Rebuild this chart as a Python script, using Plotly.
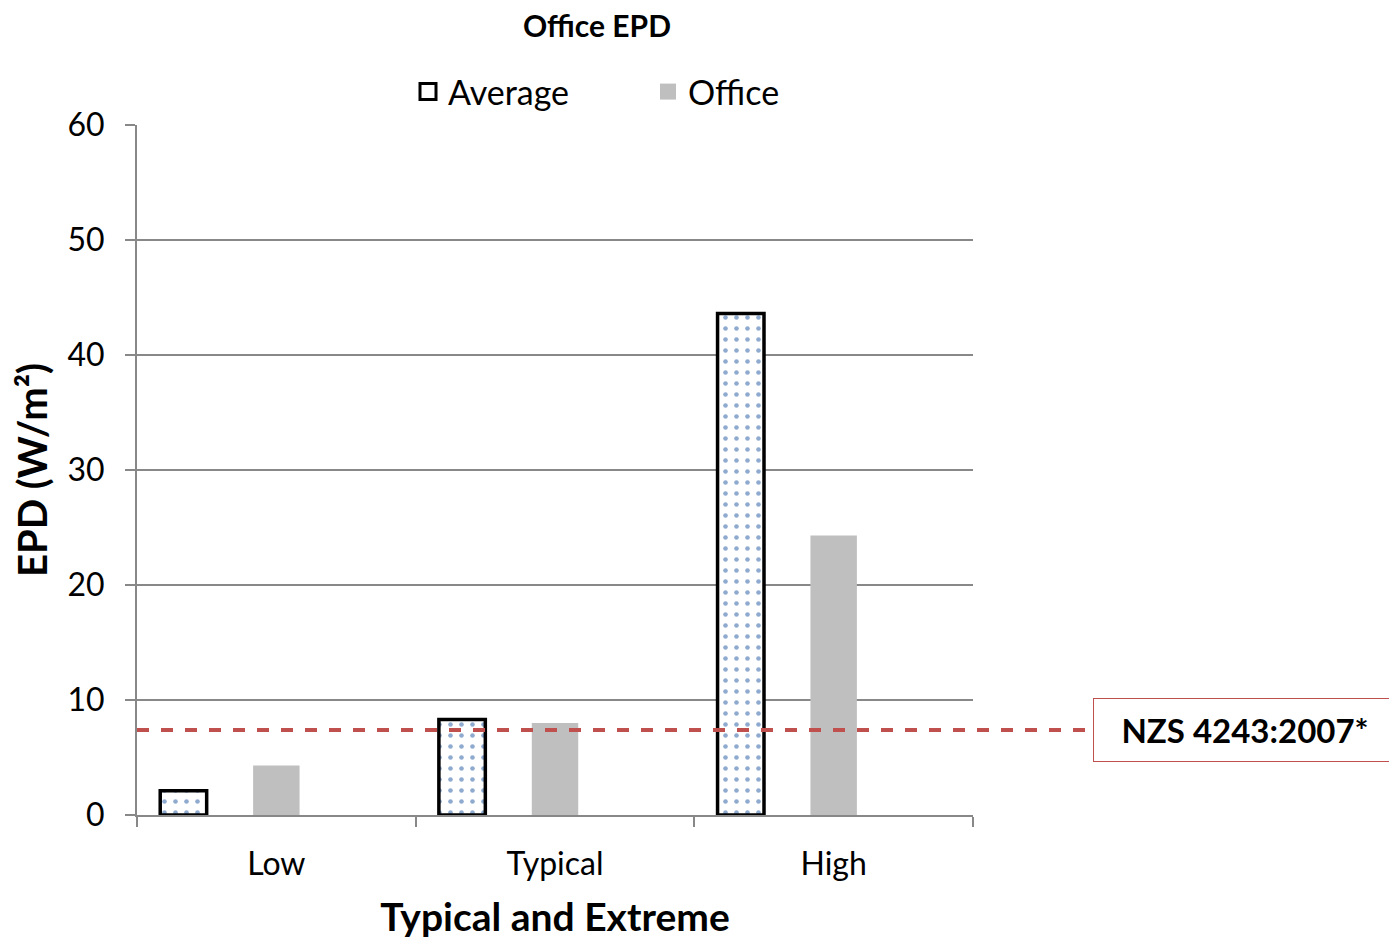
import plotly.graph_objects as go

categories = ["Low", "Typical", "High"]
average_vals = [2.1, 8.3, 43.6]
office_vals = [4.3, 8.0, 24.3]
standard_val = 7.4
standard_label = "NZS 4243:2007*"

FONT = "Lato"
W, H = 1389, 934          # page has an 8px body margin
PL, PR, PT, PB = 129, 424, 117, 127
PW, PH = W - PL - PR, H - PT - PB

fig = go.Figure()
fig.add_trace(go.Bar(
    name="Average", x=categories, y=average_vals, showlegend=False,
    marker=dict(color="white", line=dict(color="black", width=3.5),
                pattern=dict(shape=".", fgcolor="#1f55a0", bgcolor="white",
                             size=11, solidity=0.14)),
))
fig.add_trace(go.Bar(
    name="Office", x=categories, y=office_vals, showlegend=False,
    marker=dict(color="#bfbfbf", line=dict(width=0)),
))
fig.add_trace(go.Bar(
    name="", x=categories, y=[None, None, None], showlegend=False,
    hoverinfo="skip",
))
# legend entries (larger square swatches than the default bar legend)
fig.add_trace(go.Scatter(
    name="Average", x=[None], y=[None], mode="markers",
    marker=dict(symbol="square", size=16, color="white", line=dict(color="black", width=3)),
))
fig.add_trace(go.Scatter(
    name="Office", x=[None], y=[None], mode="markers",
    marker=dict(symbol="square", size=16, color="#bfbfbf", line=dict(width=0)),
))

xbox = (1093 - 8 - PL) / PW
fig.add_shape(type="line", xref="paper", yref="y", x0=0, x1=xbox,
              y0=standard_val, y1=standard_val, layer="above",
              line=dict(color="#c0504d", width=4, dash="dash"))
fig.add_annotation(xref="paper", yref="y", x=xbox, y=standard_val,
                   xanchor="left", yanchor="middle", text="<b>" + standard_label + "</b>",
                   showarrow=False, font=dict(family=FONT, size=33, color="black"),
                   bordercolor="#c0504d", borderwidth=1, bgcolor="white",
                   width=300, height=60, align="center")

fig.update_layout(
    width=W, height=H,
    margin=dict(l=PL, r=PR, t=PT, b=PB),
    paper_bgcolor="white", plot_bgcolor="white",
    barmode="group", bargap=0.0, bargroupgap=0.5,
    font=dict(family=FONT, size=30, color="black"),
    title=dict(text="<b>Office EPD</b>", x=(597 - 8) / W, xanchor="center",
               y=1 - 18 / H, yanchor="middle", font=dict(family=FONT, size=30)),
    legend=dict(orientation="h", x=(408 - 8 - PL) / PW, xanchor="left",
                y=1 + (PT - (92 - 8)) / PH, yanchor="middle",
                font=dict(family=FONT, size=34), itemwidth=30,
                traceorder="normal", entrywidthmode="pixels", entrywidth=195),
    showlegend=True,
)
fig.update_xaxes(
    automargin=False,
    showline=True, linecolor="#888888", linewidth=2,
    ticks="outside", tickson="boundaries", ticklen=10, tickcolor="#888888", tickwidth=2,
    tickfont=dict(family=FONT, size=32), ticklabelstandoff=20,
    title=dict(text="<b>Typical and Extreme</b>", font=dict(family=FONT, size=39), standoff=22),
    showgrid=False,
)
fig.update_yaxes(
    automargin=False,
    range=[0, 60], dtick=10, showline=True, linecolor="#888888", linewidth=2,
    ticks="outside", ticklen=10, tickcolor="#888888", tickwidth=2,
    showgrid=True, gridcolor="#888888", gridwidth=2,
    tickfont=dict(family=FONT, size=32), ticklabelstandoff=14,
    title=dict(text="<b>EPD (W/m²)</b>", font=dict(family=FONT, size=40), standoff=12),
    zeroline=False,
)

fig.write_html("out.html")
